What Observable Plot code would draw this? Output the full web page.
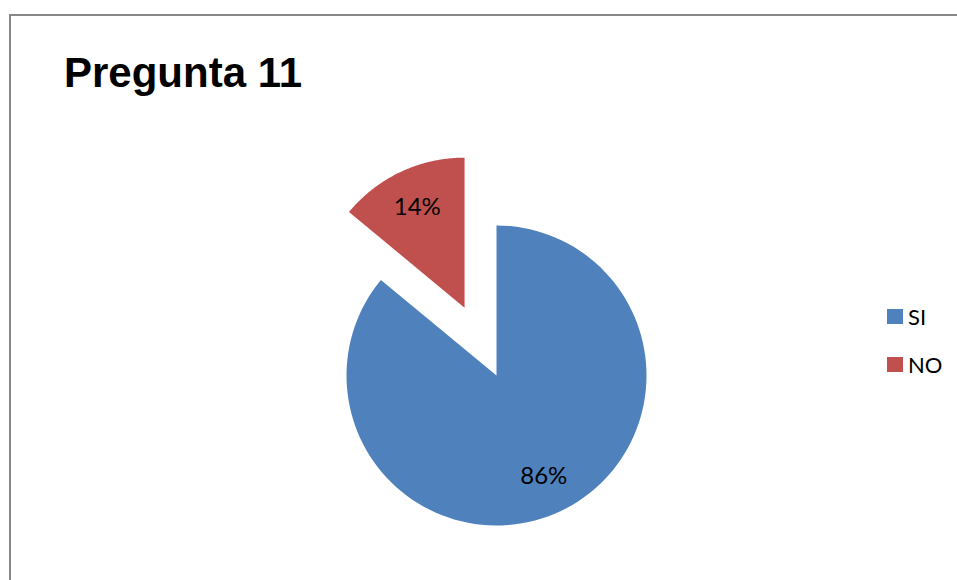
<!DOCTYPE html>
<html>
<head>
<meta charset="utf-8">
<script src="https://cdn.jsdelivr.net/npm/d3@7"></script>
<script src="https://cdn.jsdelivr.net/npm/@observablehq/plot@0.6"></script>
<style>
  html, body { margin: 0; padding: 0; background: #fff; }
  #wrap { position: relative; width: 957px; height: 580px; overflow: hidden; }
  #border { position: absolute; left: 9px; top: 14px; width: 1000px; height: 700px;
            border-left: 2px solid #888; border-top: 2px solid #888; box-sizing: border-box; }
  #title { position: absolute; left: 64px; top: 49px; font-family: "Liberation Sans", Arial, sans-serif;
           font-weight: bold; font-size: 42px; color: #000; white-space: nowrap; }
  #chart { position: absolute; left: 0; top: 0; }
  #legend { position: absolute; left: 887px; top: 292px; font-family: Lato, "Open Sans", sans-serif;
            font-size: 22px; color: #000; }
  .item { display: flex; align-items: center; height: 48px; margin: 0; }
  .sw { width: 16px; height: 15px; margin-right: 5px; }
</style>
</head>
<body>
<div id="wrap">
  <div id="border"></div>
  <div id="chart"></div>
  <div id="title">Pregunta 11</div>
  <div id="legend"></div>
</div>
<script>
const categories = ["SI", "NO"];
const values = [86, 14];
const labels = ["86%", "14%"];
const colors = ["#4F81BD", "#C0504D"];
const exploded = [0, 0.5];   // explosion as fraction of radius

// pie geometry (unit radius), from data
const pie = d3.pie().sort(null).value(d => d.value)(
  categories.map((c, i) => ({category: c, value: values[i], label: labels[i], explode: exploded[i]}))
);
const pts = [];
const lbl = [];
pie.forEach(s => {
  const mid = (s.startAngle + s.endAngle) / 2;
  const ox = s.data.explode * Math.sin(mid), oy = s.data.explode * Math.cos(mid);
  pts.push({category: s.data.category, x: ox, y: oy});
  const n = 120;
  for (let k = 0; k <= n; k++) {
    const a = s.startAngle + (s.endAngle - s.startAngle) * k / n;
    pts.push({category: s.data.category, x: ox + Math.sin(a), y: oy + Math.cos(a)});
  }
  pts.push({category: s.data.category, x: ox, y: oy});
  lbl.push({label: s.data.label, x: ox + 0.74 * Math.sin(mid), y: oy + 0.74 * Math.cos(mid)});
});

const W = 957, H = 580, R = 150, cx = 496, cy = 375;
const chart = Plot.plot({
  width: W, height: H,
  margin: 0,
  x: {domain: [-cx / R, (W - cx) / R], axis: null},
  y: {domain: [-(H - cy) / R, cy / R], axis: null},
  color: {domain: categories, range: colors},
  marks: [
    Plot.line(pts, {x: "x", y: "y", z: "category", fill: "category", stroke: null, curve: "linear"}),
    Plot.text(lbl, {x: "x", y: "y", text: "label", fontSize: 24, fill: "#000",
      fontFamily: "Lato, 'Open Sans', sans-serif"})
  ]
});
document.getElementById("chart").appendChild(chart);

const legend = document.getElementById("legend");
categories.forEach((c, i) => {
  const it = document.createElement("div");
  it.className = "item";
  it.innerHTML = `<div class="sw" style="background:${colors[i]}"></div><span>${c}</span>`;
  legend.appendChild(it);
});
</script>
</body>
</html>
